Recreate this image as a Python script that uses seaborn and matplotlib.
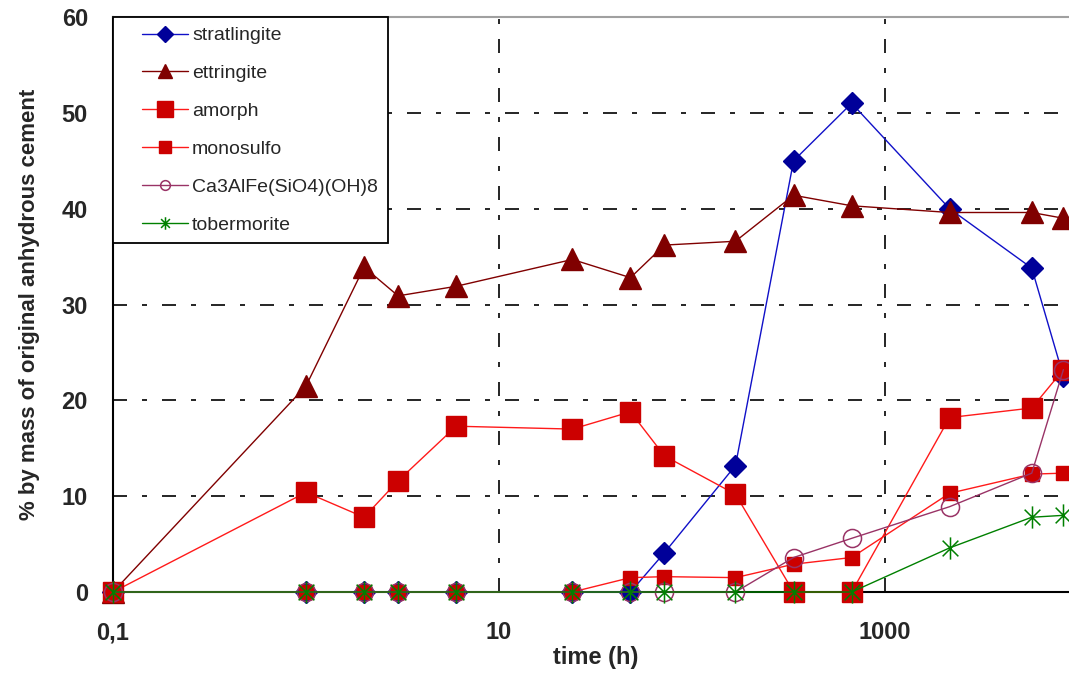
import numpy as np
import matplotlib
matplotlib.use("Agg")
import matplotlib.pyplot as plt
import seaborn as sns
from matplotlib.lines import Line2D
from matplotlib.legend_handler import HandlerLine2D
from matplotlib.path import Path
from matplotlib.ticker import FixedLocator, NullLocator

# ---------------- data ----------------
time_h = [0.1, 1, 2, 3, 6, 24, 48, 72, 168, 336, 672, 2160, 5760, 8400]
stratlingite = [0, 0, 0, 0, 0, 0, 0, 4.1, 13.2, 45.0, 51.0, 40.0, 33.8, 22.5]
ettringite = [0, 21.5, 33.9, 30.9, 31.9, 34.7, 32.8, 36.2, 36.6, 41.4, 40.3, 39.6, 39.6, 39.0]
amorph = [0, 10.4, 7.8, 11.6, 17.3, 17.0, 18.8, 14.2, 10.2, 0, 0, 18.2, 19.2, 23.2]
monosulfo = [0, 0, 0, 0, 0, 0, 1.5, 1.6, 1.5, 2.9, 3.6, 10.3, 12.3, 12.4]
ca3alfe = [0, 0, 0, 0, 0, 0, 0, 0, 0, 3.6, 5.6, 8.9, 12.4, 23.2]
tobermorite = [0, 0, 0, 0, 0, 0, 0, 0, 0, 0, 0, 4.6, 7.8, 8.0]

series_names = ["stratlingite", "ettringite", "amorph", "monosulfo",
                "Ca3AlFe(SiO4)(OH)8", "tobermorite"]
series_values = [stratlingite, ettringite, amorph, monosulfo, ca3alfe, tobermorite]

x_ticks = [0.1, 10, 1000]
x_tick_labels = ["0,1", "10", "1000"]
y_ticks = [0, 10, 20, 30, 40, 50, 60]

# ---------------- styles ----------------
star = Path([(0, -1), (0, 1), (-0.7071, -0.7071), (0.7071, 0.7071),
             (-0.7071, 0.7071), (0.7071, -0.7071)],
            [Path.MOVETO, Path.LINETO, Path.MOVETO, Path.LINETO,
             Path.MOVETO, Path.LINETO])

styles = [
    dict(color="#1010C8", marker="D", ms=11, mfc="#000099", mec="#000099", mew=1, lms=8),
    dict(color="#800000", marker="^", ms=16, mfc="#800000", mec="#800000", mew=1, lms=10),
    dict(color="#FF1A1A", marker="s", ms=14.5, mfc="#CC0000", mec="#CC0000", mew=1, lms=11.5),
    dict(color="#FF1A1A", marker="s", ms=10.5, mfc="#CC0000", mec="#CC0000", mew=1, lms=8.5),
    dict(color="#993366", marker="o", ms=13, mfc="none", mec="#993366", mew=1.1, lms=7),
    dict(color="#008000", marker=star, ms=16, mfc="none", mec="#008000", mew=1.1, lms=9),
]

sns.set_style("white")
plt.rcParams["font.family"] = ["Liberation Sans", "DejaVu Sans"]

W, H = 1069, 673
fig = plt.figure(figsize=(W / 100, H / 100), dpi=100)
ax_left, ax_right, ax_top, ax_bottom = 113, 1078, 17, 592
ax = fig.add_axes([ax_left / W, (H - ax_bottom) / H,
                   (ax_right - ax_left) / W, (ax_bottom - ax_top) / H])
ax.set_xscale("log")

for i, (name, vals, st) in enumerate(zip(series_names, series_values, styles)):
    sns.lineplot(x=time_h, y=vals, ax=ax, color=st["color"], linewidth=1.0,
                 marker=st["marker"], markersize=st["ms"],
                 markerfacecolor=st["mfc"], markeredgecolor=st["mec"],
                 markeredgewidth=st["mew"], estimator=None, sort=False,
                 legend=False, zorder=3 + i, clip_on=False)

ax.set_xlim(0.1, 10000)
ax.set_ylim(0, 60)
ax.xaxis.set_major_locator(FixedLocator(x_ticks))
ax.set_xticklabels(x_tick_labels)
ax.xaxis.set_minor_locator(NullLocator())
ax.yaxis.set_major_locator(FixedLocator(y_ticks))
ax.set_yticklabels([str(v) for v in y_ticks])

lw_grid = 1.2
ax.grid(True, which="major", color="black", linewidth=lw_grid,
        linestyle=(0, (8.4, 9, 3, 9)))
ax.set_axisbelow(True)

for s in ["left", "bottom"]:
    ax.spines[s].set_color("black")
    ax.spines[s].set_linewidth(1.5)
ax.spines["top"].set_color("#A0A0A0")
ax.spines["top"].set_linewidth(1.5)
ax.spines["right"].set_visible(False)

ax.tick_params(axis="both", which="major", direction="out", length=6, width=1.5,
               color="black", labelsize=17)
ax.tick_params(axis="x", pad=15)
ax.tick_params(axis="y", pad=12)
for lab in ax.get_xticklabels() + ax.get_yticklabels():
    lab.set_fontweight("bold")

ax.set_xlabel("time (h)", fontsize=17, fontweight="bold", labelpad=1)
ax.set_ylabel("% by mass of original anhydrous cement", fontsize=16, fontweight="bold")
ax.yaxis.set_label_coords((40 - ax_left) / (ax_right - ax_left), 0.5)


class OffsetLineHandler(HandlerLine2D):
    def __init__(self, offset, **kw):
        super().__init__(**kw)
        self._off = offset

    def get_xdata(self, legend, xdescent, ydescent, width, height, fontsize):
        x0 = -xdescent + self._off * fontsize
        x1 = -xdescent + width
        return np.array([x0, x1]), np.array([(x0 + x1) / 2.0])


handles = []
for st in styles:
    handles.append(Line2D([], [], color=st["color"], linewidth=1.0,
                          marker=st["marker"], markersize=st["lms"],
                          markerfacecolor=st["mfc"], markeredgecolor=st["mec"],
                          markeredgewidth=st["mew"]))

leg = ax.legend(handles, series_names, loc="upper left", bbox_to_anchor=(0, 1),
                borderaxespad=0, frameon=True, fancybox=False, shadow=False,
                fontsize=14, borderpad=0.5, labelspacing=1.04,
                handlelength=3.36, handletextpad=0.2, numpoints=1,
                handler_map={Line2D: OffsetLineHandler(0.99)})
leg.get_frame().set_edgecolor("black")
leg.get_frame().set_linewidth(1.3)
leg.get_frame().set_facecolor("white")
leg.get_frame().set_alpha(1)
leg.set_zorder(20)

fig.savefig("out.png", dpi=100)
